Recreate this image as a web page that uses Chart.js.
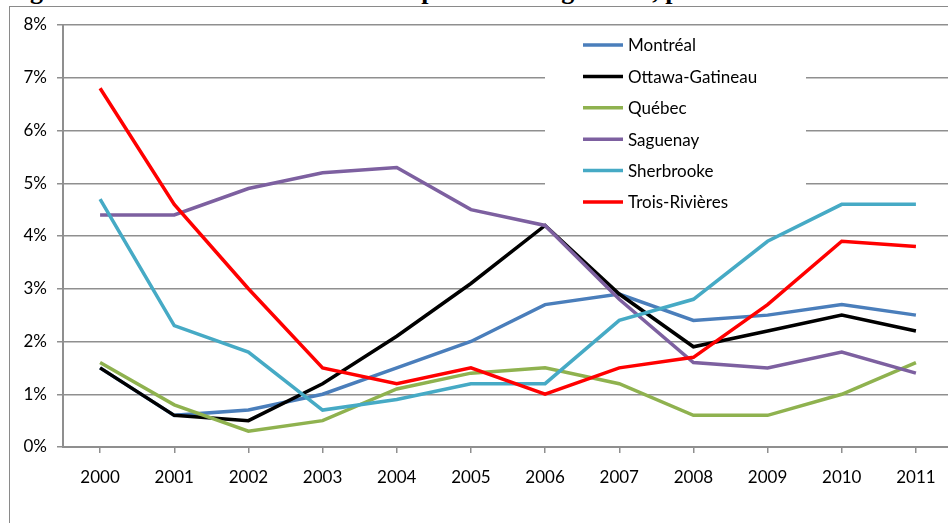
<!DOCTYPE html>
<html>
<head>
<meta charset="utf-8">
<script src="https://cdn.jsdelivr.net/npm/chart.js@4.4.1/dist/chart.umd.min.js"></script>
<style>
  html, body { margin: 0; padding: 0; width: 948px; height: 523px; overflow: hidden; background: #fff; }
  #title {
    position: absolute; left: 7px; top: -22px; width: 705px; overflow: hidden; white-space: nowrap;
    font: bold 26px/26px "Liberation Serif", serif; color: #000;
  }
  #frame {
    position: absolute; left: 9px; top: 6px; width: 960px; height: 540px;
    border-top: 1px solid #8a8a8a; border-left: 1px solid #8a8a8a;
  }
  #chart_wrapper { position: absolute; left: 0; top: 0; width: 960px; height: 523px; }
</style>
</head>
<body>
<div id="title">Figure 3 : Évolution du taux d'inoccupation des logements, par</div>
<div id="frame"></div>
<div id="chart_wrapper"><canvas id="myChart" width="960" height="523"></canvas></div>
<script>
let years = ["2000", "2001", "2002", "2003", "2004", "2005", "2006", "2007", "2008", "2009", "2010", "2011"];

let montreal      = [1.5, 0.6, 0.7, 1.0, 1.5, 2.0, 2.7, 2.9, 2.4, 2.5, 2.7, 2.5];
let ottawa        = [1.5, 0.6, 0.5, 1.2, 2.1, 3.1, 4.2, 2.9, 1.9, 2.2, 2.5, 2.2];
let quebec        = [1.6, 0.8, 0.3, 0.5, 1.1, 1.4, 1.5, 1.2, 0.6, 0.6, 1.0, 1.6];
let saguenay      = [4.4, 4.4, 4.9, 5.2, 5.3, 4.5, 4.2, 2.8, 1.6, 1.5, 1.8, 1.4];
let sherbrooke    = [4.7, 2.3, 1.8, 0.7, 0.9, 1.2, 1.2, 2.4, 2.8, 3.9, 4.6, 4.6];
let troisRivieres = [6.8, 4.6, 3.0, 1.5, 1.2, 1.5, 1.0, 1.5, 1.7, 2.7, 3.9, 3.8];

let seriesNames  = ["Montréal", "Ottawa-Gatineau", "Québec", "Saguenay", "Sherbrooke", "Trois-Rivières"];
let seriesData   = [montreal, ottawa, quebec, saguenay, sherbrooke, troisRivieres];
let seriesColors = ["#4A7EBB", "#000000", "#8FB24F", "#7D60A0", "#46AAC5", "#FF0000"];

let yTicks = [0, 1, 2, 3, 4, 5, 6, 7, 8];

let fontFamily = "Lato, 'Open Sans', sans-serif";
let gridColor = "#8f8f8f";
let lineW = 3.5;

// légende dessinée dans la zone du graphique (fond blanc par-dessus la grille)
const boxLegend = {
  id: "boxLegend",
  beforeDatasetsDraw(chart) {
    const ctx = chart.ctx;
    ctx.save();
    ctx.fillStyle = "#ffffff";
    ctx.fillRect(545, 28, 261, 188);
    ctx.font = "17px " + fontFamily;
    ctx.textBaseline = "middle";
    ctx.textAlign = "left";
    chart.data.datasets.forEach((ds, i) => {
      const y = 45 + i * 31.4;
      ctx.strokeStyle = ds.borderColor;
      ctx.lineWidth = lineW;
      ctx.beginPath();
      ctx.moveTo(583, y);
      ctx.lineTo(623, y);
      ctx.stroke();
      ctx.fillStyle = "#000000";
      ctx.fillText(ds.label, 628, y + 1);
    });
    ctx.restore();
  },
};

let config = {
  type: "line",
  data: {
    labels: years,
    datasets: seriesNames.map((name, i) => ({
      label: name,
      data: seriesData[i],
      borderColor: seriesColors[i],
      backgroundColor: seriesColors[i],
      borderWidth: lineW,
      tension: 0,
      pointRadius: 0,
      fill: false,
      order: seriesNames.length - 1 - i,
    })),
  },
  options: {
    responsive: false,
    devicePixelRatio: 1,
    animation: false,
    layout: { padding: { top: 25, left: 0, right: 7, bottom: 0 } },
    plugins: {
      legend: { display: false },
      tooltip: { enabled: false },
    },
    scales: {
      x: {
        offset: true,
        grid: {
          display: true,
          drawOnChartArea: false,
          drawTicks: true,
          tickLength: 6,
          color: gridColor,
          lineWidth: 1.5,
        },
        border: { display: true, color: gridColor, width: 2 },
        ticks: {
          color: "#000000",
          padding: 14,
          maxRotation: 0,
          font: { family: fontFamily, size: 17 },
        },
        afterFit(scale) {
          scale.height = 76;
        },
      },
      y: {
        min: 0,
        max: 8,
        afterBuildTicks(scale) {
          scale.ticks = yTicks.map((v) => ({ value: v }));
        },
        grid: {
          color: gridColor,
          lineWidth: 1.5,
          tickLength: 6,
        },
        border: { display: true, color: gridColor, width: 2 },
        ticks: {
          color: "#000000",
          padding: 10,
          font: { family: fontFamily, size: 17 },
          callback: (v) => v + "%",
        },
        afterFit(scale) {
          scale.width = 63;
        },
      },
    },
  },
  plugins: [boxLegend],
};

window.onload = function () {
  let ctx = document.getElementById("myChart").getContext("2d");
  window.myLine = new Chart(ctx, config);
};
</script>
</body>
</html>
